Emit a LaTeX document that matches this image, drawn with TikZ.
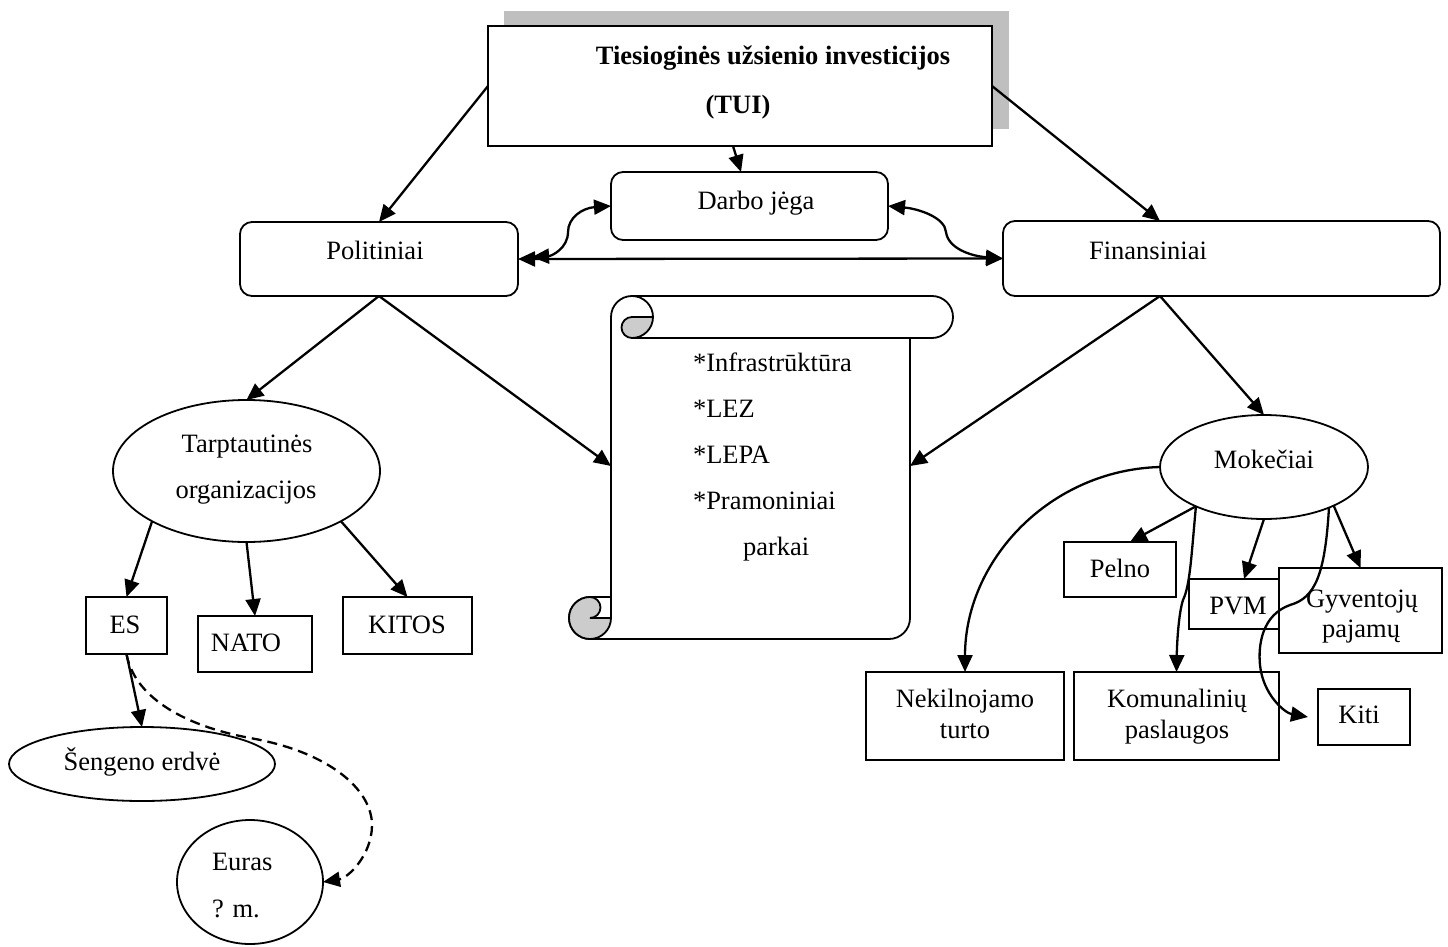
\documentclass[tikz,border=0pt]{standalone}
\usepackage{fontspec}
\setmainfont{Liberation Serif}
\usetikzlibrary{arrows.meta,shapes.geometric}
\begin{document}
\begin{tikzpicture}[x=1pt,y=-1pt,
  lbl/.style={inner sep=0pt, outer sep=0pt, anchor=base, font=\fontsize{26.5}{32}\selectfont},
  lblw/.style={lbl, anchor=base west},
  shp/.style={draw, line width=1.8pt, fill=white, inner sep=0pt, outer sep=0pt},
  rbox/.style={shp, rounded corners=12pt},
  ell/.style={shp, ellipse},
  curl/.style={draw, line width=1.8pt, fill=black!20},
  scrollline/.style={draw, line width=1.8pt},
  arr/.style={line width=2.3pt, -{Triangle[length=17pt,width=15pt]}},
  darr/.style={line width=2.3pt, {Triangle[length=17pt,width=15pt]}-{Triangle[length=17pt,width=15pt]}},
]
\fill[white] (0,0) rectangle (1448,947);
\useasboundingbox (0,0) rectangle (1448,947);

% ---- top box with shadow
\node[fill=black!25, inner sep=0pt, minimum width=505pt, minimum height=118pt] (shadow) at (756.5,70) {};
\node[shp, minimum width=504pt, minimum height=120pt] (tui) at (740,86) {};
\node[lbl, font=\fontsize{26.5}{32}\selectfont\bfseries] (tuiA) at (773,65) {Tiesioginės užsienio investicijos};
\node[lbl, font=\fontsize{26.5}{32}\selectfont\bfseries] (tuiB) at (738,114) {(TUI)};

% ---- second level
\node[rbox, minimum width=277pt, minimum height=68pt] (dar) at (749.5,206) {};
\node[lbl] (darT) at (756,209) {Darbo jėga};
\node[rbox, minimum width=278pt, minimum height=74pt] (pol) at (379,259) {};
\node[lbl] (polT) at (375,259) {Politiniai};
\node[rbox, minimum width=437pt, minimum height=75pt] (fin) at (1221.5,258.5) {};
\node[lbl] (finT) at (1148,259) {Finansiniai};

% ---- scroll
\path[scrollline] (611,618) -- (611,317) arc[start angle=180,end angle=270,radius=21]
  -- (932,296) arc[start angle=270,end angle=450,radius=21] -- (632,338);
\path[scrollline] (632,296) arc[start angle=270,end angle=360,radius=21];
\path[curl] (653,317) -- (632,317) arc[start angle=270,end angle=90,radius=10.5]
  arc[start angle=90,end angle=0,radius=21] -- cycle;
\path[scrollline] (910,338) -- (910,618) arc[start angle=0,end angle=90,radius=21]
  -- (590,639) arc[start angle=90,end angle=270,radius=21] -- (611,597);
\path[curl] (590,618) -- (611,618) arc[start angle=0,end angle=270,radius=21]
  arc[start angle=270,end angle=450,radius=10.5] -- cycle;
\coordinate (scrL) at (611,466);
\coordinate (scrR) at (910,466);
\node[lblw] (s1) at (693,371) {*Infrastrūktūra};
\node[lblw] (s2) at (693,417) {*LEZ};
\node[lblw] (s3) at (693,463) {*LEPA};
\node[lblw] (s4) at (693,509) {*Pramoniniai};
\node[lblw] (s5) at (743,555) {parkai};

% ---- left branch
\node[ell, minimum width=267pt, minimum height=142pt] (tar) at (246.5,471) {};
\node[lbl] (tarA) at (247,452) {Tarptautinės};
\node[lbl] (tarB) at (246,498) {organizacijos};
\node[shp, minimum width=81pt, minimum height=57pt] (es) at (126.5,625.5) {};
\node[lbl] (esT) at (125,633) {ES};
\node[shp, minimum width=114pt, minimum height=56pt] (nato) at (255,644) {};
\node[lbl] (natoT) at (246,651) {NATO};
\node[shp, minimum width=129pt, minimum height=57pt] (kit) at (407.5,625.5) {};
\node[lbl] (kitT) at (407,633) {KITOS};
\node[ell, minimum width=266pt, minimum height=74pt] (sen) at (142,764) {};
\node[lbl] (senT) at (142,770) {Šengeno erdvė};
\node[ell, minimum width=146pt, minimum height=124pt] (eur) at (250,882) {};
\node[lblw] (eurA) at (212,870) {Euras};
\node[lblw] (eurB) at (212,917) {? m.};

% ---- right branch
\node[ell, minimum width=208pt, minimum height=104pt] (mok) at (1264,467) {};
\node[lbl] (mokT) at (1264,468) {Mokečiai};
\node[shp, minimum width=112pt, minimum height=55pt] (pel) at (1120,569.5) {};
\node[lbl] (pelT) at (1120,577) {Pelno};
\node[shp, minimum width=91pt, minimum height=50pt] (pvm) at (1234.5,604) {};
\node[lbl] (pvmT) at (1238,614) {PVM};
\node[shp, minimum width=163pt, minimum height=85pt] (gyv) at (1360.5,610.5) {};
\node[lbl] (gyvA) at (1362,607) {Gyventojų};
\node[lbl] (gyvB) at (1361,637) {pajamų};
\node[shp, minimum width=205pt, minimum height=88pt] (kom) at (1176.5,716) {};
\node[lbl] (komA) at (1177,707) {Komunalinių};
\node[lbl] (komB) at (1177,738) {paslaugos};
\node[shp, minimum width=92pt, minimum height=56pt] (kiti) at (1364,717) {};
\node[lbl] (kitiT) at (1359,723) {Kiti};
\node[shp, minimum width=198pt, minimum height=88pt] (nek) at (965,716) {};
\node[lbl] (nekA) at (965,707) {Nekilnojamo};
\node[lbl] (nekB) at (965,738) {turto};

% ---- attach points
\coordinate (tuiBot) at (733,146);
\coordinate (darTop) at (741,172);
\coordinate (finTop) at (1160,221);
\coordinate (finBot) at (1160,296);
\coordinate (polE2) at (532,257);
\coordinate (pelTop) at (1130,542);
\coordinate (pvmTop) at (1244,579);
\coordinate (kitiIn) at (1308,717);

% ---- connectors
\draw[arr] (tui.west) -- (pol.north);
\draw[arr] (tui.east) -- (finTop);
\draw[arr] (tuiBot) -- (darTop);
\draw[darr] (pol.east) -- (fin.west);
\draw[darr] (dar.west) .. controls (582,208) and (568,218) .. (568,232)
  .. controls (568,248) and (552,256) .. (polE2);
\draw[darr] (dar.east) .. controls (920,209) and (945,218) .. (946,232)
  .. controls (948,248) and (970,256) .. (fin.west);
\draw[arr] (pol.south) -- (tar.north);
\draw[arr] (pol.south) -- (scrL);
\draw[arr] (finBot) -- (scrR);
\draw[arr] (finBot) -- (mok.north);
\draw[arr] (tar.208) -- (es.north);
\draw[arr] (tar.south) -- (nato.north);
\draw[arr] (tar.-28) -- (kit.north);
\draw[arr] (es.south) -- (sen.north);
\draw[arr, dash pattern=on 10pt off 6pt] (es.south) .. controls (134,695) and (180,725) .. (250,738)
  .. controls (330,752) and (372,790) .. (372,825)
  .. controls (372,855) and (348,878) .. (eur.east);
\draw[arr] (mok.210) -- (pelTop);
\draw[arr] (mok.south) -- (pvmTop);
\draw[arr] (mok.-29) -- (gyv.north);
\draw[arr] (mok.210) .. controls (1191,560) and (1190,585) .. (1183,600)
  .. controls (1179,612) and (1177,640) .. (kom.north);
\draw[arr] (mok.-32) .. controls (1325,575) and (1315,598) .. (1290,605)
  .. controls (1262,615) and (1258,645) .. (1260,665)
  .. controls (1263,695) and (1285,713) .. (kitiIn);
\draw[arr] (mok.west) .. controls (1050,470) and (965,560) .. (nek.north);
\end{tikzpicture}
\end{document}
